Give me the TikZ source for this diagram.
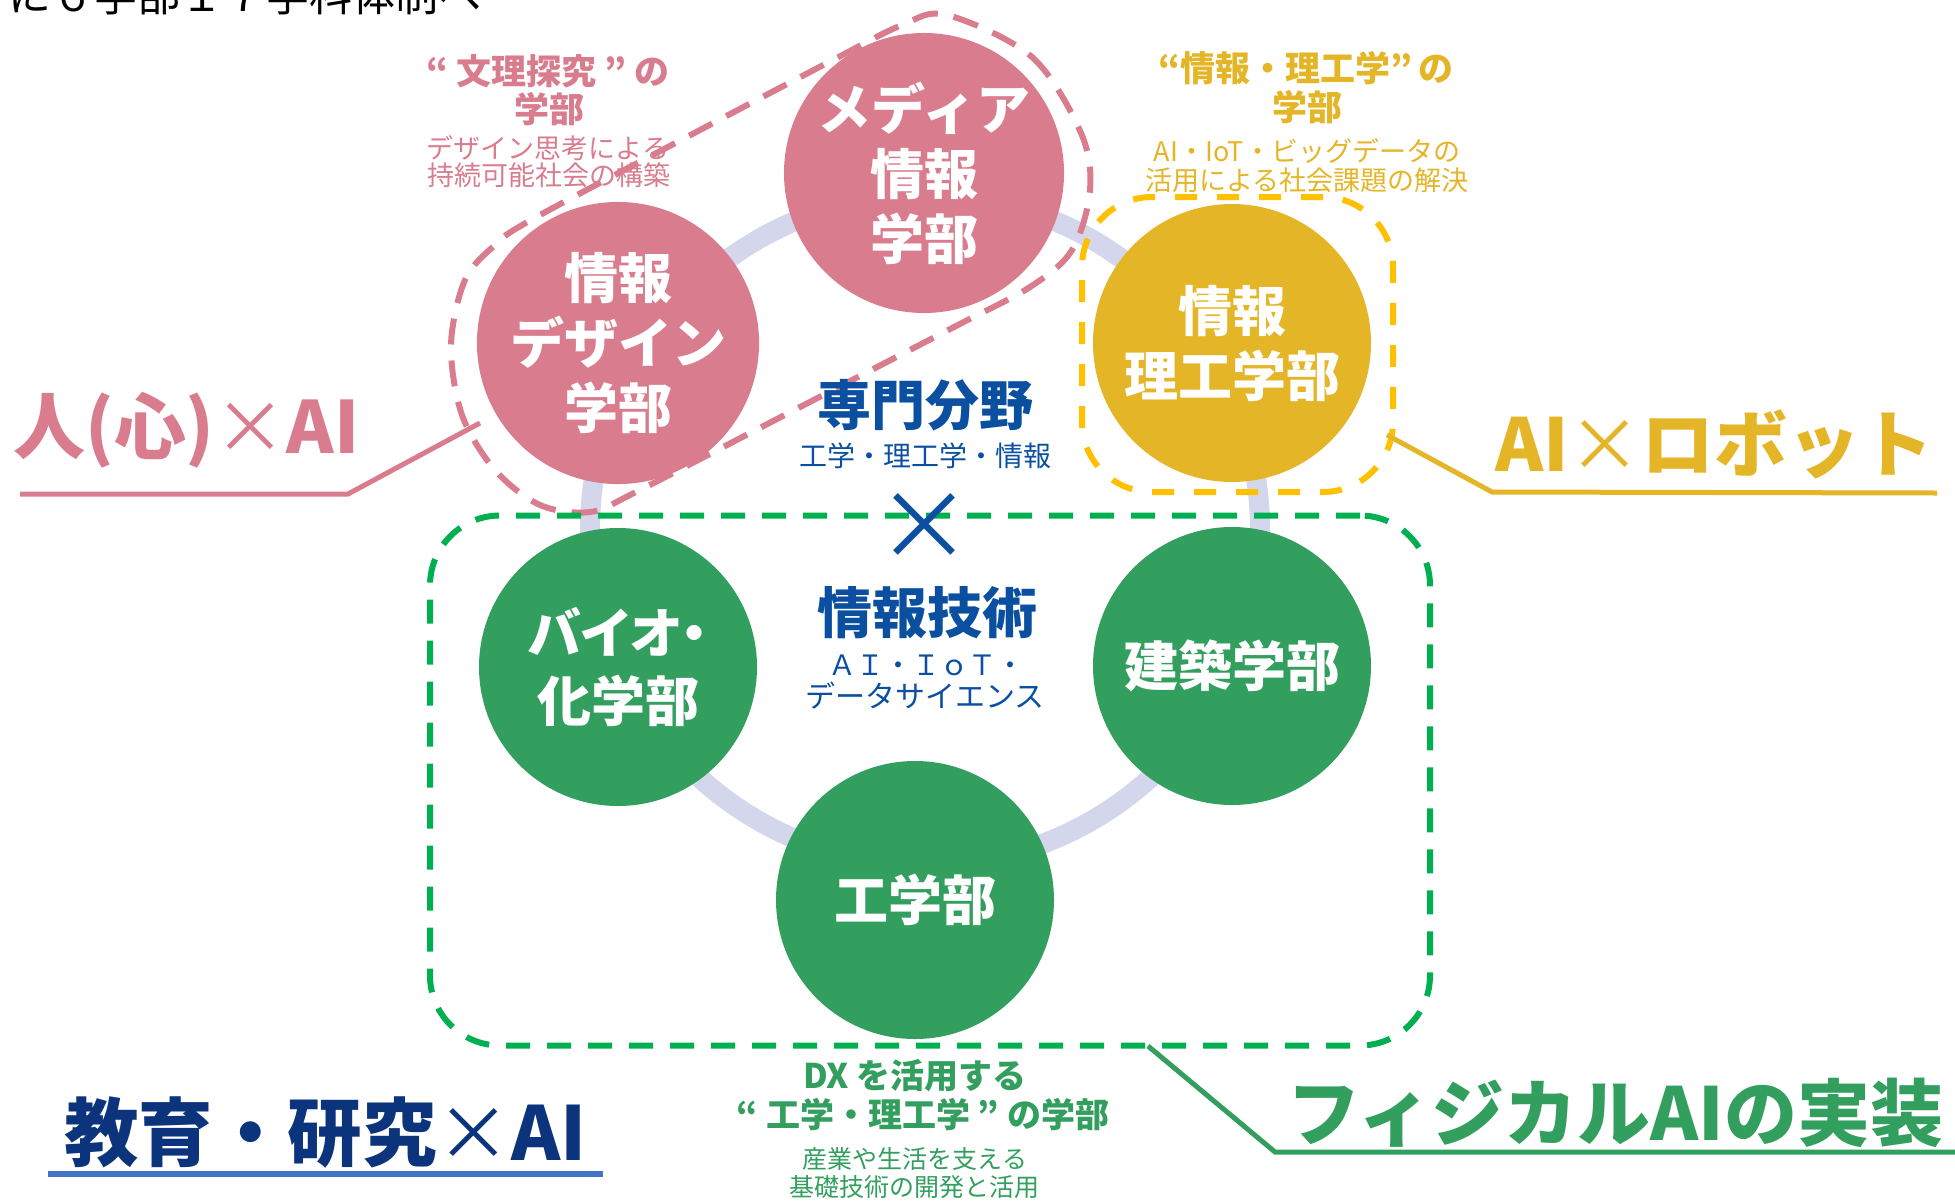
\documentclass[tikz,border=0pt]{standalone}
\usepackage{fontspec}
\setmainfont{Noto Sans CJK JP}
\newfontfamily\jpp[RawFeature=+palt]{Noto Sans CJK JP}
\newcommand\myfs[2]{\fontsize{#1pt}{#2pt}\selectfont}
\definecolor{cpink}{HTML}{D97D8E}
\definecolor{cyel}{HTML}{E5B528}
\definecolor{cyeld}{HTML}{FFC000}
\definecolor{cgreen}{HTML}{339F5F}
\definecolor{cgreend}{HTML}{00B050}
\definecolor{cring}{HTML}{D4D6EC}
\definecolor{cblue}{HTML}{0A4FA0}
\definecolor{cnavy}{HTML}{0B347C}
\definecolor{culine}{HTML}{4472C4}
\begin{document}
\begin{tikzpicture}[x=1pt,y=-1pt,
  fac/.style={circle, minimum size=278pt, inner sep=0pt, text=white, font=\bfseries\myfs{54}{65}, align=center},
  lbl/.style={inner sep=0pt, anchor=base},
  big/.style={inner sep=0pt, anchor=base west, font=\bfseries\myfs{72}{72}},
  ttl/.style={lbl, font=\bfseries\myfs{35}{38}},
  sub/.style={lbl, font=\myfs{27}{27}},
  callout/.style={line width=5pt},
  dashbox/.style={line width=6pt, rounded corners=70pt, inner sep=0pt}]
\useasboundingbox (0,0) rectangle (1955,1200);
\clip (0,0) rectangle (1955,1200);

% ring
\draw[cring, line width=20pt] (925,530) circle[radius=335pt];

% faculties
\node[fac, fill=cpink] (media) at (924,173) {メディア\\情報\\学部};
\node[fac, fill=cpink] (design) at (618,343) {情報\\デザイン\\学部};
\node[fac, fill=cyel] (riko) at (1232,343) {情報\\理工学部};
\node[fac, fill=cgreen, font=\jpp\bfseries\myfs{54}{68}] (bio) at (618,667) {バイオ・\\化学部};
\node[fac, fill=cgreen] (arch) at (1232,666) {建築学部};
\node[fac, fill=cgreen] (eng) at (915,900) {工学部};

% dashed groupings
\draw[cpink, line width=6pt, dash pattern=on 26pt off 16pt]
  plot[smooth cycle, tension=0.55] coordinates {
  (947,15) (1032,57) (1081,133) (1090,190) (1072,250) (1030,287) (956,326) (777,419) (634,493)
  (590,512) (540,505) (495,470) (462,415) (451,345) (465,280) (495,245) (531,220)
  (683,139) (831,61) (902,25)};
\node[dashbox, draw=cyeld, dash pattern=on 22pt off 20pt, minimum width=311pt, minimum height=295pt] (yrect) at (1237.5,344.5) {};
\node[dashbox, draw=cgreend, dash pattern=on 24pt off 17pt, minimum width=1000pt, minimum height=530pt] (grect) at (930,780.5) {};

% callout lines
\coordinate (pa) at (480,423); \coordinate (pb) at (348,494); \coordinate (pc) at (20,494);
\draw[callout, cpink] (pa) -- (pb) -- (pc);
\coordinate (ya) at (1387,435); \coordinate (yb) at (1492,492); \coordinate (yc) at (1937,493);
\draw[callout, cyel] (ya) -- (yb) -- (yc);
\coordinate (ga) at (1148,1046); \coordinate (gb) at (1275,1152); \coordinate (gc) at (1955,1152);
\draw[callout, cgreen] (ga) -- (gb) -- (gc);
\coordinate (na) at (48,1174); \coordinate (nb) at (603,1174);
\draw[culine, line width=6pt] (na) -- (nb);

% header (clipped)
\node[inner sep=0pt, anchor=base west, font=\myfs{43}{43}] (head) at (8,11) {に６学部１７学科体制へ};

% pink label
\node[ttl, text=cpink] (pt1) at (548,84) {“ 文理探究 ” の};
\node[ttl, text=cpink] (pt2) at (549,122) {学部};
\node[sub, text=cpink] (pt3) at (548,158) {デザイン思考による};
\node[sub, text=cpink] (pt4) at (549,185) {持続可能社会の構築};

% yellow label
\node[ttl, text=cyel] (yt1) at (1306,81) {“情報・理工学”\,の};
\node[ttl, text=cyel] (yt2) at (1307,120) {学部};
\node[sub, text=cyel] (yt3) at (1307,161) {AI・IoT・ビッグデータの};
\node[sub, text=cyel] (yt4) at (1307,190) {活用による社会課題の解決};

% green label
\node[ttl, text=cgreen, font=\bfseries\myfs{34}{38}] (gt1) at (915,1088) {DX を活用する};
\node[ttl, text=cgreen, font=\bfseries\myfs{34}{38}] (gt2) at (923,1127) {“ 工学・理工学 ” の学部};
\node[lbl, text=cgreen, font=\myfs{25}{25}] (gt3) at (915,1168) {産業や生活を支える};
\node[lbl, text=cgreen, font=\myfs{25}{25}] (gt4) at (914,1196) {基礎技術の開発と活用};

% centre
\node[lbl, text=cblue, font=\bfseries\myfs{54}{54}] (sen) at (925,425) {専門分野};
\node[lbl, text=cblue, font=\myfs{28}{28}] (sen2) at (925,466) {工学・理工学・情報};
\node[inner sep=0pt, text=cblue, font=\myfs{96}{96}] (times) at (924,527) {×};
\node[lbl, text=cblue, font=\bfseries\myfs{55}{55}] (jt) at (927,633) {情報技術};
\node[lbl, text=cblue, font=\myfs{28}{28}] (jt2) at (926,675) {ＡＩ・ＩｏＴ・};
\node[lbl, text=cblue, font=\myfs{30}{30}] (jt3) at (925,707) {データサイエンス};

% big labels
\node[big, text=cpink] (lpink) at (13,453) {人(心){\mdseries ×}AI};
\node[big, text=cyel, font=\bfseries\myfs{73}{73}] (lyel) at (1495,471) {AI{\mdseries ×}ロボット};
\node[big, text=cnavy, font=\bfseries\myfs{74.5}{74.5}] (lnavy) at (64,1160) {教育・研究{\mdseries ×}AI};
\node[big, text=cgreen, font=\bfseries\myfs{73}{73}] (lgreen) at (1287,1140) {フィジカルAIの実装};
\end{tikzpicture}
\end{document}
